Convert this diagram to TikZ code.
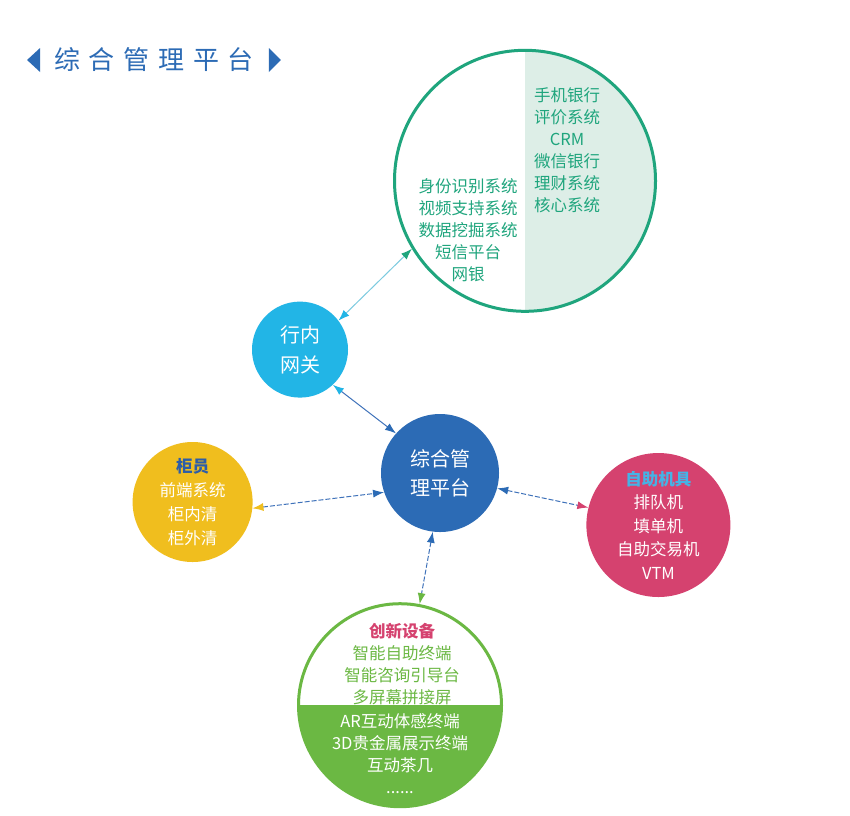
\documentclass[tikz,border=0pt]{standalone}
\usepackage{fontspec}
\setmainfont{Noto Sans CJK SC}
\usetikzlibrary{positioning,arrows.meta}
\definecolor{hubblue}{HTML}{2C6BB5}
\definecolor{gwcyan}{HTML}{22B5E6}
\definecolor{telleryellow}{HTML}{F0BE1E}
\definecolor{kioskpink}{HTML}{D5426F}
\definecolor{devgreen}{HTML}{6BB843}
\definecolor{sysgreen}{HTML}{1FA57D}
\definecolor{sysfill}{HTML}{DDEEE7}
\definecolor{tellerlabel}{HTML}{2D5DA8}
\definecolor{kiosklabel}{HTML}{45B3E6}
\definecolor{linkblue}{HTML}{3F72BA}
\definecolor{linkcyan}{HTML}{7CCBE0}

\begin{document}
\begin{tikzpicture}[x=1pt, y=-1pt,
    ball/.style = {circle, inner sep=0pt, text=white, align=center},
    txt/.style = {font=\fontsize{16.5}{22}\selectfont, align=center, inner sep=0pt},
    link/.style = {line width=1pt, linkblue},
    dlink/.style = {link, dash pattern=on 5pt off 2pt},
    hubtip/.tip = {Latex[length=11pt, width=8pt, color=hubblue]},
    gwtip/.tip = {Latex[length=11pt, width=8pt, color=gwcyan]},
    systip/.tip = {Latex[length=11pt, width=8pt, color=sysgreen]},
    tellertip/.tip = {Latex[length=11pt, width=8pt, color=telleryellow]},
    kiosktip/.tip = {Latex[length=11pt, width=8pt, color=kioskpink]},
    devtip/.tip = {Latex[length=11pt, width=8pt, color=devgreen]}]
    \useasboundingbox[fill=white] (0,0) rectangle (850,815);

    \node(title) [inner sep=0pt, text=hubblue, font=\fontsize{26}{30}\selectfont] at (154,60)
        {综\hspace{8.7pt}合\hspace{8.7pt}管\hspace{8.7pt}理\hspace{8.7pt}平\hspace{8.7pt}台};
    \fill[hubblue] ([xshift=-14pt]title.west) -- ++(0,-12) -- ++(-13,12) -- ++(13,12) -- cycle;
    \fill[hubblue] ([xshift=15pt]title.east) -- ++(0,-12) -- ++(12,12) -- ++(-12,12) -- cycle;

    \node(hub) [ball, fill=hubblue, minimum size=118pt, font=\fontsize{20}{29}\selectfont] at (440,473) {综合管\\理平台};
    \node(gateway) [ball, fill=gwcyan, minimum size=96pt, font=\fontsize{20}{30}\selectfont, above = 16pt of hub, xshift=-140pt] {行内\\网关};
    \node(teller) [ball, fill=telleryellow, minimum size=120pt, font=\fontsize{16.5}{24}\selectfont, left = 128pt of hub, yshift=-29pt]
        {\textcolor{tellerlabel}{\bfseries 柜员}\\前端系统\\柜内清\\柜外清};
    \node(kiosk) [ball, fill=kioskpink, minimum size=144pt, font=\fontsize{16.5}{23.5}\selectfont, right = 87pt of hub, yshift=-52pt]
        {\textcolor{kiosklabel}{\bfseries 自助机具}\\排队机\\填单机\\自助交易机\\VTM};
    \node(devices) [circle, draw=devgreen, line width=3pt, minimum size=203pt, below = 70pt of hub, xshift=-40pt,
        path picture={\fill[devgreen] (path picture bounding box.west) rectangle (path picture bounding box.south east);}] {};
    \node(systems) [circle, draw=sysgreen, line width=3pt, minimum size=261pt, above = 101pt of hub, xshift=85pt,
        path picture={\fill[sysfill] (path picture bounding box.north) rectangle (path picture bounding box.south east);}] {};

    \node(sysright) [txt, text=sysgreen] at ([shift={(42,-30.5)}]systems.center) {手机银行\\评价系统\\CRM\\微信银行\\理财系统\\核心系统};
    \node(sysleft) [txt, text=sysgreen] at ([shift={(-57,49)}]systems.center) {身份识别系统\\视频支持系统\\数据挖掘系统\\短信平台\\网银};
    \node(devtop) [txt, text=devgreen] at ([shift={(2,-41)}]devices.center)
        {\textcolor{kioskpink}{\bfseries 创新设备}\\智能自助终端\\智能咨询引导台\\多屏幕拼接屏};
    \node(devbottom) [txt, text=white] at ([shift={(0,48)}]devices.center) {AR互动体感终端\\3D贵金属展示终端\\互动茶几\\......};

    \draw[link, linkcyan, {gwtip}-{systip}] (gateway.37) -- (systems.211);
    \draw[link, {gwtip}-{hubtip}] (gateway.-47) -- (hub.138);
    \draw[dlink, {tellertip}-{hubtip}] (teller.-6) -- (hub.199);
    \draw[dlink, {hubtip}-{kiosktip}] (hub.-15) -- (kiosk.166);
    \draw[dlink, {hubtip}-{devtip}] (hub.-97) -- (devices.79);
\end{tikzpicture}
\end{document}
